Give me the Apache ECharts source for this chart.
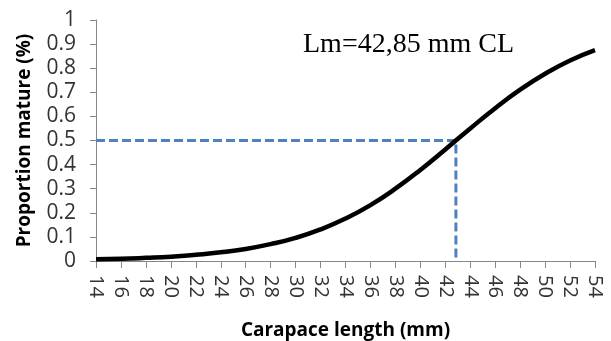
<!DOCTYPE html>
<html>
<head>
<meta charset="utf-8">
<script src="https://cdn.jsdelivr.net/npm/echarts@6/dist/echarts.min.js"></script>
<style>
html,body{margin:0;padding:0;background:#fff;}
#chart{width:611px;height:341px;}
</style>
</head>
<body>
<div id="chart"></div>
<script>
// Carapace length (mm)
var lengths = [14,16,18,20,22,24,26,28,30,32,34,36,38,40,42,44,46,48,50,52,54];
// Proportion mature
var proportionMature = [0.007,0.009,0.013,0.018,0.026,0.036,0.050,0.070,0.096,0.131,0.176,0.232,0.300,0.378,0.463,0.550,0.634,0.711,0.777,0.832,0.875];
// L50 reference
var lm = 42.85;
var lmLabel = 'Lm=42,85 mm CL';
var refLineX = [14, 42.85, 42.85];
var refLineY = [0.5, 0.5, 0];
var xTitle = 'Carapace length (mm)';
var yTitle = 'Proportion mature (%)';

var curveData = lengths.map(function(v,i){ return [v, proportionMature[i]]; });
var refData = refLineX.map(function(v,i){ return [v, refLineY[i]]; });

var chart = echarts.init(document.getElementById('chart'), null, {renderer:'canvas'});
var axisGray = '#868686';
chart.setOption({
  animation: false,
  backgroundColor: '#fff',
  grid: {left: 96, right: 16, top: 20, bottom: 80, containLabel: false, outerBoundsMode: 'none'},
  xAxis: {
    type: 'value', min: 14, max: 54, interval: 2,
    name: xTitle, nameLocation: 'middle', nameGap: 60,
    nameTextStyle: {fontFamily: 'Open Sans', fontWeight: 'bold', fontSize: 19, color: '#000'},
    axisLine: {show: true, onZero: false, lineStyle: {color: axisGray, width: 1}},
    axisTick: {show: true, length: 7, inside: false, lineStyle: {color: axisGray}},
    axisLabel: {rotate: -90, margin: 14, fontFamily: 'Open Sans', fontSize: 20, color: '#333'},
    splitLine: {show: false}
  },
  yAxis: {
    type: 'value', min: 0, max: 1, interval: 0.1,
    name: yTitle, nameLocation: 'middle', nameGap: 62,
    nameTextStyle: {fontFamily: 'Open Sans', fontWeight: 'bold', fontSize: 19, color: '#000'},
    axisLine: {show: true, lineStyle: {color: axisGray, width: 1}},
    axisTick: {show: true, length: 6, inside: false, lineStyle: {color: axisGray}},
    axisLabel: {margin: 20, fontFamily: 'Open Sans', fontSize: 21, color: '#333'},
    splitLine: {show: false}
  },
  series: [
    {
      type: 'line', data: refData, symbol: 'none', silent: true,
      lineStyle: {color: '#4F81BD', width: 3, type: [9, 4]}, z: 2
    },
    {
      type: 'line', data: curveData, symbol: 'none', smooth: true, silent: true,
      lineStyle: {color: '#000', width: 4.5}, z: 3
    }
  ],
  graphic: [{
    type: 'text', left: 303, top: 31,
    style: {text: lmLabel, fontFamily: 'Liberation Serif', fontSize: 28, fill: '#000'}
  }]
});
</script>
</body>
</html>
